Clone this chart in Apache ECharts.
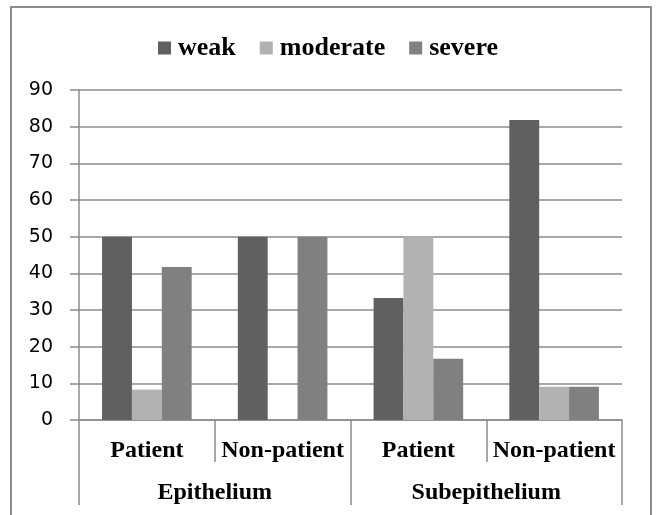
<!DOCTYPE html>
<html>
<head>
<meta charset="utf-8">
<script src="https://cdn.jsdelivr.net/npm/echarts@6/dist/echarts.min.js"></script>
<style>
  html, body { margin: 0; padding: 0; background: #fff; }
  #main { width: 656px; height: 515px; }
</style>
</head>
<body>
<div id="main"></div>
<script>
let groups = ["Patient", "Non-patient", "Patient", "Non-patient"];
let regions = ["Epithelium", "Subepithelium"];
let seriesNames = ["weak", "moderate", "severe"];
let weak = [50, 50, 33.3, 81.8];
let moderate = [8.3, 0, 50, 9.1];
let severe = [41.7, 50, 16.7, 9.1];
let yTicks = [0, 10, 20, 30, 40, 50, 60, 70, 80, 90];

let chart = echarts.init(document.getElementById("main"));
let color = ["#606060", "#b2b2b2", "#808080"];
let serif = "'Liberation Serif', 'DejaVu Serif', serif";
let gray = "#8c8c8c";

let option = {
  animation: false,
  backgroundColor: "#fff",
  graphic: [
    {
      type: "rect",
      shape: { x: 11, y: 7, width: 640, height: 530 },
      style: { fill: "none", stroke: gray, lineWidth: 2 },
    },
  ],
  legend: {
    data: seriesNames,
    top: 30,
    left: "center",
    itemWidth: 13,
    itemHeight: 13,
    itemGap: 24,
    icon: "rect",
    textStyle: {
      fontFamily: serif,
      fontWeight: "bold",
      fontSize: 26,
      color: "#000",
      padding: [0, 0, 0, 2],
    },
  },
  grid: {
    left: 79,
    right: 34,
    top: 90,
    bottom: 95,
  },
  xAxis: [
    {
      type: "category",
      data: groups,
      axisLine: { lineStyle: { color: gray, width: 1.5 } },
      axisTick: { show: true, interval: 0, length: 42, lineStyle: { color: gray, width: 1.5 } },
      axisLabel: {
        interval: 0,
        hideOverlap: false,
        margin: 19,
        color: "#000",
        fontFamily: serif,
        fontWeight: "bold",
        fontSize: 24,
      },
    },
    {
      type: "category",
      data: regions,
      position: "bottom",
      axisLine: { show: false },
      axisTick: { show: true, interval: 0, length: 85, lineStyle: { color: gray, width: 1.5 } },
      axisLabel: {
        interval: 0,
        margin: 61,
        color: "#000",
        fontFamily: serif,
        fontWeight: "bold",
        fontSize: 24,
      },
    },
  ],
  yAxis: {
    type: "value",
    min: yTicks[0],
    max: yTicks[yTicks.length - 1],
    interval: 10,
    axisLine: { show: true, lineStyle: { color: gray, width: 1.5 } },
    axisTick: { show: true, length: 9, lineStyle: { color: gray, width: 1.5 } },
    splitLine: { lineStyle: { color: gray, width: 1.5 } },
    axisLabel: {
      margin: 26,
      color: "#000",
      fontFamily: "'DejaVu Sans', sans-serif",
      fontSize: 19,
    },
  },
  series: [
    { name: seriesNames[0], type: "bar", data: weak, color: color[0], barGap: "0%", barCategoryGap: "34%" },
    { name: seriesNames[1], type: "bar", data: moderate, color: color[1], barGap: "0%", barCategoryGap: "34%" },
    { name: seriesNames[2], type: "bar", data: severe, color: color[2], barGap: "0%", barCategoryGap: "34%" },
  ],
};
chart.setOption(option);
</script>
</body>
</html>
